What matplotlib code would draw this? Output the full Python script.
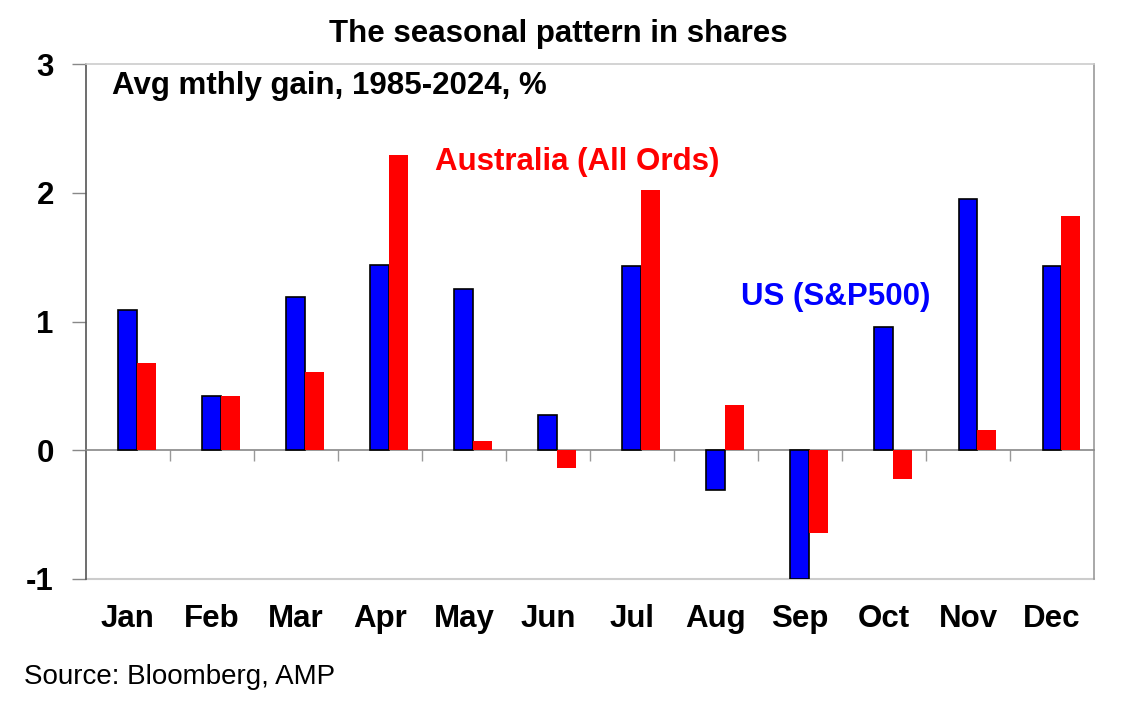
import matplotlib
matplotlib.use("Agg")
import matplotlib.pyplot as plt
import numpy as np

plt.rcParams['font.family'] = ['Liberation Sans', 'DejaVu Sans']

months = ["Jan", "Feb", "Mar", "Apr", "May", "Jun", "Jul", "Aug", "Sep", "Oct", "Nov", "Dec"]
us_sp500 = [1.09, 0.42, 1.19, 1.44, 1.25, 0.27, 1.43, -0.31, -1.00, 0.96, 1.95, 1.43]
aus_allords = [0.68, 0.42, 0.61, 2.29, 0.07, -0.14, 2.02, 0.35, -0.64, -0.22, 0.16, 1.82]
y_ticks = [-1, 0, 1, 2, 3]

W, H = 1132, 722
FS = 22.5
fig = plt.figure(figsize=(W / 100, H / 100), dpi=100)
ax = fig.add_axes([85.7 / W, 1 - 579 / H, (1094 - 85.7) / W, (579 - 64) / H])

x = np.arange(len(months))
bw = 0.225
ax.bar(x, us_sp500, width=bw, color='#0000FF', edgecolor='black', linewidth=1.2, zorder=3)
ax.bar(x + bw, aus_allords, width=bw, color='#FF0000', edgecolor='none', zorder=3)

ax.set_xlim(-0.5, len(months) - 0.5)
ax.set_ylim(-1, 3)
ax.set_yticks(y_ticks)
ax.set_yticklabels([str(v) for v in y_ticks], fontsize=FS, fontweight='bold')
ax.tick_params(axis='y', length=10, width=1, color='#888888', pad=13)

# main x axis sits on the zero line with boundary ticks
ax.spines['bottom'].set_position(('data', 0))
ax.spines['bottom'].set_color('#888888')
ax.set_xticks(x)
ax.set_xticklabels([])
ax.tick_params(axis='x', which='major', length=0)
ax.set_xticks(x[:-1] + 0.5, minor=True)
ax.tick_params(axis='x', which='minor', length=8, width=1, color='#999999', direction='out')

ax.spines['left'].set_color('#555555')
ax.spines['right'].set_color('#999999')
ax.spines['top'].set_color('#cccccc')
for s in ['left', 'right', 'top', 'bottom']:
    ax.spines[s].set_linewidth(1.2)

# category labels along the bottom frame
sec = ax.secondary_xaxis(0)
sec.set_xticks(x)
sec.set_xticklabels(months, fontsize=FS, fontweight='bold')
sec.tick_params(length=0, pad=18)
sec.spines['bottom'].set_color('#cccccc')
sec.spines['bottom'].set_linewidth(1.5)

fig.text(558 / W, 1 - 42 / H, "The seasonal pattern in shares", ha='center', va='baseline',
         fontsize=FS, fontweight='bold')
fig.text(112 / W, 1 - 94 / H, "Avg mthly gain, 1985-2024, %", ha='left', va='baseline',
         fontsize=FS, fontweight='bold')
fig.text(435 / W, 1 - 170 / H, "Australia (All Ords)", ha='left', va='baseline',
         fontsize=FS, fontweight='bold', color='#FF0000')
fig.text(741 / W, 1 - 305 / H, "US (S&P500)", ha='left', va='baseline',
         fontsize=FS, fontweight='bold', color='#0000FF')
fig.text(24 / W, 1 - 684 / H, "Source: Bloomberg, AMP", ha='left', va='baseline', fontsize=20)

fig.savefig("out.png", dpi=100)
